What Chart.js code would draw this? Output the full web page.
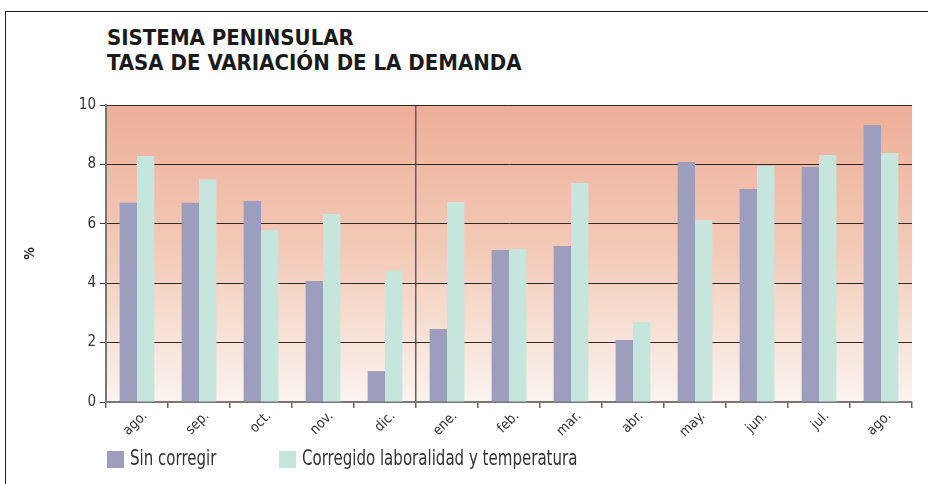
<!DOCTYPE html>
<html>
<head>
<meta charset="utf-8">
<script src="https://cdn.jsdelivr.net/npm/chart.js@4"></script>
<style>
  body { margin: 0; background: #fff; }
  #wrap { position: relative; width: 928px; height: 484px; overflow: hidden; }
  #frame { position: absolute; left: 5px; top: 11px; width: 940px; height: 500px;
           border-top: 1.5px solid #222; border-left: 1.5px solid #222; }
  #title { position: absolute; left: 107px; top: 25px; font-family: "Liberation Sans Narrow", "DejaVu Sans Condensed", sans-serif;
           font-weight: bold; font-size: 22px; line-height: 25px; color: #1a1a1a; }
  #legend { position: absolute; left: 107px; top: 449px; font-family: "Liberation Sans Narrow", "DejaVu Sans Condensed", sans-serif;
            font-size: 22px; color: #333; }
  .item { position: absolute; top: 0; white-space: nowrap; }
  .box { position: absolute; left: 0; top: 2px; width: 17px; height: 17px; }
  .txt { position: absolute; left: 23px; top: -4px; transform: scaleX(0.76); transform-origin: left top; }
  canvas { position: absolute; left: 0; top: 0; }
</style>
</head>
<body>
<div id="wrap">
  <div id="frame"></div>
  <div id="title">SISTEMA PENINSULAR<br>TASA DE VARIACIÓN DE LA DEMANDA</div>
  <canvas id="chart" width="928" height="484"></canvas>
  <div id="legend"></div>
</div>
<script>
const months = ["ago.", "sep.", "oct.", "nov.", "dic.", "ene.", "feb.", "mar.", "abr.", "may.", "jun.", "jul.", "ago."];
const sinCorregir = [6.71, 6.71, 6.77, 4.07, 1.04, 2.46, 5.12, 5.25, 2.09, 8.08, 7.17, 7.91, 9.33];
const corregido = [8.28, 7.5, 5.79, 6.33, 4.42, 6.73, 5.15, 7.37, 2.69, 6.13, 7.95, 8.32, 8.38];
const yTicks = [0, 2, 4, 6, 8, 10];

const seriesNames = ["Sin corregir", "Corregido laboralidad y temperatura"];
const seriesColors = ["#9d9dbd", "#c6e5dc"];
const FONT = "'Liberation Sans Narrow', 'DejaVu Sans Condensed', sans-serif";

// gradient behind the plot area
const bgPlugin = {
  id: "bg",
  beforeDraw(chart) {
    const a = chart.chartArea;
    const ctx = chart.ctx;
    const g = ctx.createLinearGradient(0, a.top, 0, a.bottom);
    g.addColorStop(0, "#edae98");
    g.addColorStop(0.5, "#f3cbb8");
    g.addColorStop(1, "#faf4ef");
    ctx.save();
    ctx.fillStyle = g;
    ctx.fillRect(a.left, a.top, a.right - a.left, a.bottom - a.top);
    ctx.restore();
  },
};

// legend as plain html
const legend = document.getElementById("legend");
const legendX = [0, 172];
seriesNames.forEach((name, i) => {
  const d = document.createElement("div");
  d.className = "item";
  d.style.left = legendX[i] + "px";
  d.innerHTML = `<span class="box" style="background:${seriesColors[i]}"></span>`;
  const t = document.createElement("span");
  t.className = "txt";
  t.textContent = name;
  d.appendChild(t);
  legend.appendChild(d);
});

new Chart(document.getElementById("chart"), {
  type: "bar",
  data: {
    labels: months,
    datasets: [
      { label: seriesNames[0], data: sinCorregir, backgroundColor: seriesColors[0] },
      { label: seriesNames[1], data: corregido, backgroundColor: seriesColors[1] },
    ],
  },
  plugins: [bgPlugin],
  options: {
    responsive: false,
    animation: false,
    layout: { padding: { left: 0, right: 16, top: 105, bottom: 32 } },
    datasets: { bar: { categoryPercentage: 0.56, barPercentage: 1 } },
    plugins: { legend: { display: false }, tooltip: { enabled: false } },
    scales: {
      x: {
        afterFit: (s) => { s.height = 50; },
        grid: {
          offset: true,
          drawOnChartArea: true,
          color: (c) => (c.index === 5 ? "#6a5c58" : c.index === 13 ? "#666" : "rgba(0,0,0,0)"),
          tickColor: "#666",
          tickLength: 6,
          lineWidth: 1.5,
        },
        border: { color: "#777", width: 2 },
        ticks: {
          color: "#333",
          font: { family: FONT, size: 14 },
          minRotation: 45,
          maxRotation: 45,
          padding: 0,
          labelOffset: 8,
        },
      },
      y: {
        min: 0,
        max: 10,
        afterFit: (s) => { s.width = 106; },
        afterBuildTicks: (s) => { s.ticks = yTicks.map((v) => ({ value: v })); },
        grid: { color: "#2a2a2a", lineWidth: 1, tickLength: 6, tickColor: "#444" },
        border: { color: "#777", width: 2 },
        ticks: { color: "#333", font: { family: FONT, size: 15 }, padding: 4 },
        title: {
          display: true,
          text: "%",
          color: "#222",
          font: { family: FONT, size: 14, weight: "bold" },
          padding: { top: 22, bottom: 0 },
        },
      },
    },
  },
});
</script>
</body>
</html>
